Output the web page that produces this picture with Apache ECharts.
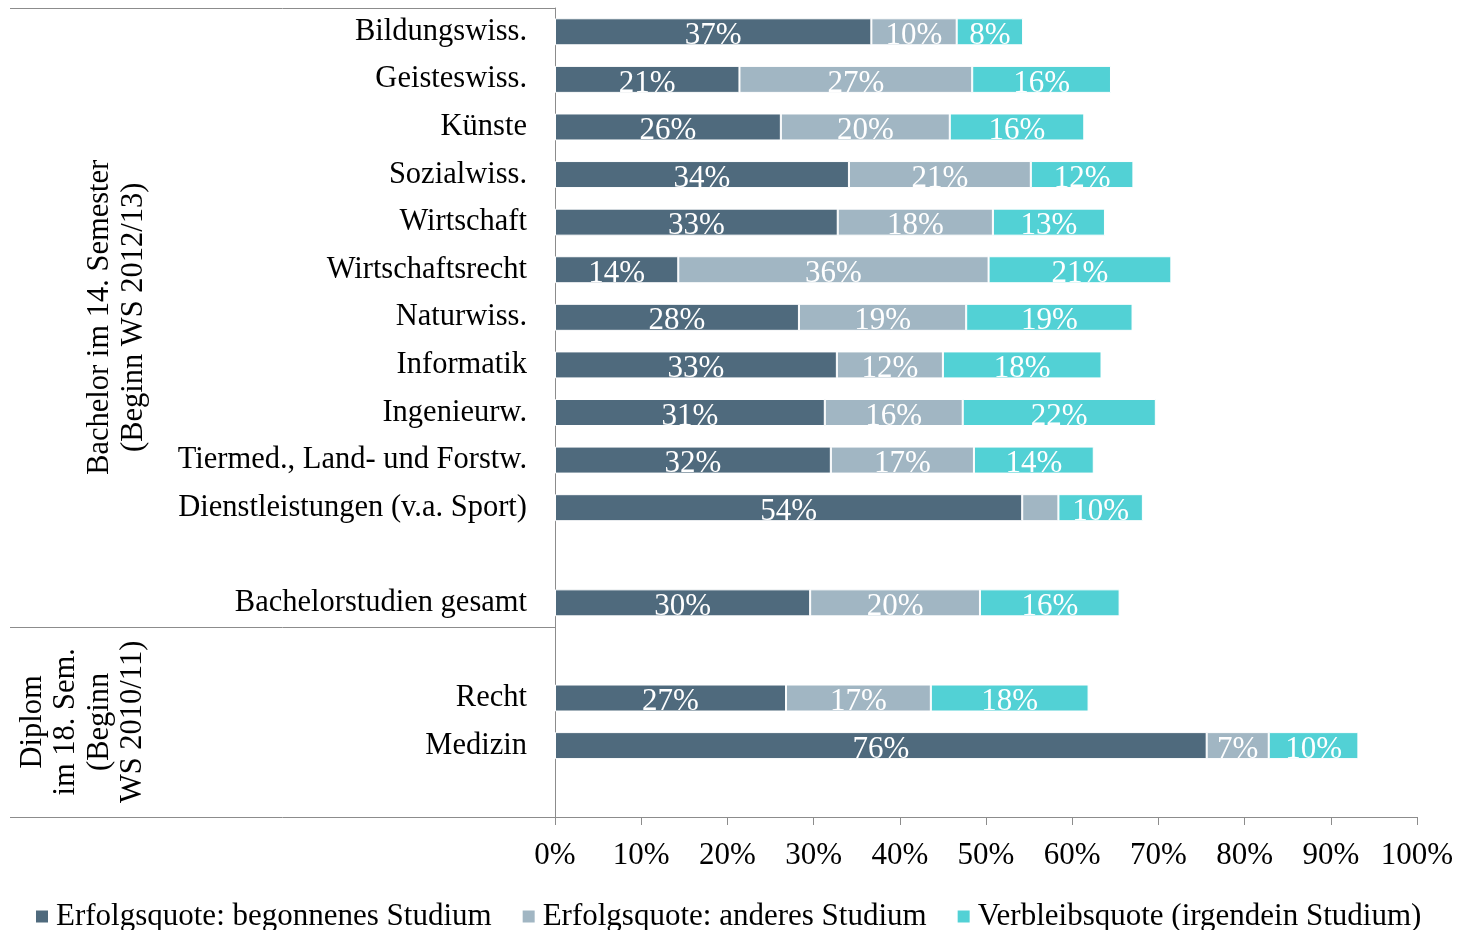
<!DOCTYPE html>
<html>
<head>
<meta charset="utf-8">
<script src="https://cdn.jsdelivr.net/npm/echarts@6/dist/echarts.min.js"></script>
<style>html,body{margin:0;padding:0;background:#fff}#c{width:1464px;height:930px}</style>
</head>
<body>
<div id="c"></div>
<script>
const categories = ['Bildungswiss.','Geisteswiss.','Künste','Sozialwiss.','Wirtschaft','Wirtschaftsrecht','Naturwiss.','Informatik','Ingenieurw.','Tiermed., Land- und Forstw.','Dienstleistungen (v.a. Sport)','','Bachelorstudien gesamt','','Recht','Medizin',''];
const seriesNames = ['Erfolgsquote: begonnenes Studium','Erfolgsquote: anderes Studium','Verbleibsquote (irgendein Studium)'];
const begonnenes = [36.7,21.4,26.2,34.1,32.8,14.3,28.3,32.7,31.3,32.0,54.2,null,29.6,null,26.8,75.6,null];
const anderes    = [9.9,27.0,19.6,21.1,18.0,36.0,19.4,12.3,16.0,16.6,4.2,null,19.7,null,16.8,7.2,null];
const verbleib   = [7.7,16.1,15.6,11.9,13.0,21.2,19.3,18.4,22.4,13.9,9.8,null,16.2,null,18.3,10.4,null];
const xTicks = [0,10,20,30,40,50,60,70,80,90,100];
const groups = [
  {text:'Bachelor im 14. Semester\n(Beginn WS 2012/13)', from:0, to:12, x:117},
  {text:'Diplom\nim 18. Sem.\n(Beginn\nWS 2010/11)', from:13, to:16, x:83}
];
const colors = ['#4f6a7d','#a1b6c3','#52d1d5'];
const FONT = '"Liberation Serif", serif';

const chart = echarts.init(document.getElementById('c'));
const values = [begonnenes, anderes, verbleib];
chart.setOption({
  animation:false,
  textStyle:{fontFamily:FONT},
  grid:{left:555,right:47,top:8,bottom:113,containLabel:false},
  legend:{
    data:seriesNames, top:896, left:31, icon:'rect', itemWidth:12, itemHeight:12, itemGap:31,
    itemStyle:{borderWidth:0},
    textStyle:{fontSize:31,color:'#000',fontFamily:FONT,padding:[0,0,0,3]}
  },
  xAxis:{
    type:'value', min:xTicks[0], max:xTicks[xTicks.length-1], interval:10,
    axisLine:{show:true,lineStyle:{color:'#8c8c8c',width:1}},
    axisTick:{show:true,length:8,lineStyle:{color:'#8c8c8c'}},
    splitLine:{show:false},
    axisLabel:{formatter:'{value}%',fontSize:31,color:'#000',margin:23,fontFamily:FONT}
  },
  yAxis:{
    type:'category', data:categories, inverse:true,
    axisLine:{show:true,lineStyle:{color:'#8c8c8c'}},
    axisTick:{show:false},
    axisLabel:{fontSize:30.5,color:'#000',margin:28,fontFamily:FONT,padding:[10,0,0,0]}
  },
  series: seriesNames.map((n,i)=>({
    name:n, type:'bar', stack:'s', data:values[i], barWidth:27,
    itemStyle:{color:colors[i],borderColor:'#fff',borderWidth:1},
    label:{show:true,position:'inside',color:'#fff',fontSize:31,fontFamily:FONT,offset:[0,4],
      formatter:p=>(p.value==null||p.value<5)?'':Math.round(p.value)+'%'}
  }))
});

function drawDecor(){
  const band = chart.convertToPixel({yAxisIndex:0},1) - chart.convertToPixel({yAxisIndex:0},0);
  const yTop = i => chart.convertToPixel({yAxisIndex:0},i) - band/2;
  const x0 = chart.convertToPixel({xAxisIndex:0},0);
  const els = [];
  const lineStyle = {stroke:'#8c8c8c',lineWidth:1};
  const bounds = [0,13,17];
  bounds.forEach(b=>{
    const y = Math.round(yTop(b))+0.5;
    els.push({type:'line',shape:{x1:10,y1:y,x2:x0,y2:y},style:lineStyle,silent:true});
  });
  groups.forEach(g=>{
    const cy = (yTop(g.from)+yTop(g.to+1))/2;
    els.push({type:'text',x:g.x,y:cy,rotation:Math.PI/2,
      style:{text:g.text,fontSize:30.5,fontFamily:FONT,fill:'#000',align:'center',verticalAlign:'middle',lineHeight:33.5}});
  });
  chart.setOption({graphic:els});
}
drawDecor();
</script>
</body>
</html>
